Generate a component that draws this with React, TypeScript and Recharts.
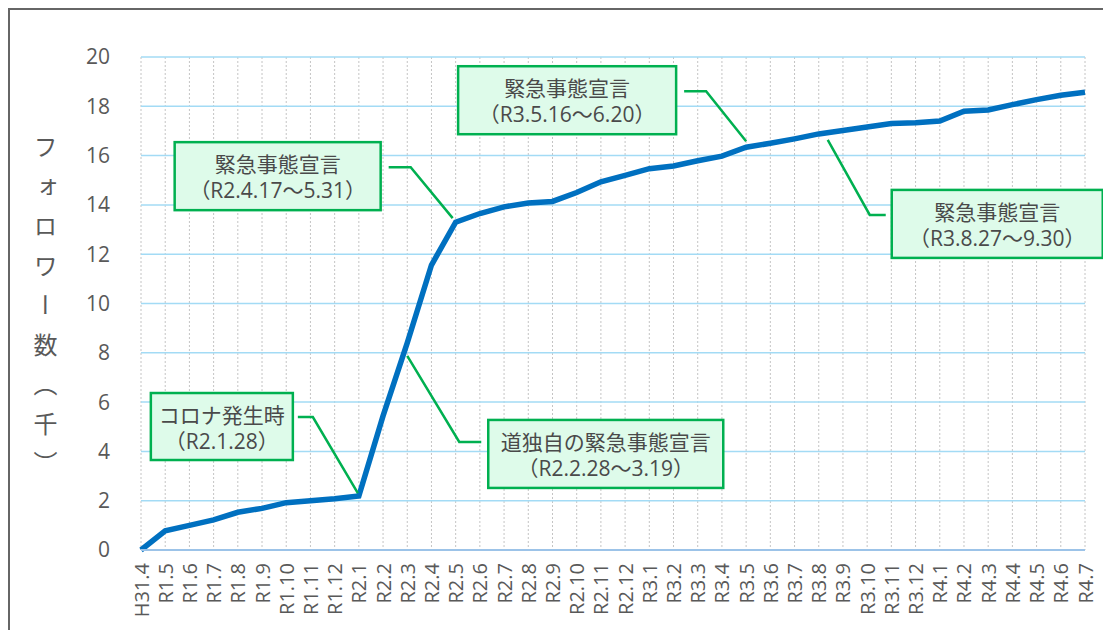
import React from 'react';
import { LineChart, Line, XAxis, YAxis, CartesianGrid, ReferenceDot } from 'recharts';

const categories = [
  'H31.4', 'R1.5', 'R1.6', 'R1.7', 'R1.8', 'R1.9', 'R1.10', 'R1.11', 'R1.12',
  'R2.1', 'R2.2', 'R2.3', 'R2.4', 'R2.5', 'R2.6', 'R2.7', 'R2.8', 'R2.9', 'R2.10', 'R2.11', 'R2.12',
  'R3.1', 'R3.2', 'R3.3', 'R3.4', 'R3.5', 'R3.6', 'R3.7', 'R3.8', 'R3.9', 'R3.10', 'R3.11', 'R3.12',
  'R4.1', 'R4.2', 'R4.3', 'R4.4', 'R4.5', 'R4.6', 'R4.7',
];

const followers = [
  0, 0.78, 1.0, 1.22, 1.53, 1.69, 1.92, 2.0, 2.08,
  2.19, 5.44, 8.4, 11.56, 13.3, 13.65, 13.92, 14.08, 14.14, 14.5, 14.94, 15.2,
  15.47, 15.58, 15.79, 15.98, 16.34, 16.5, 16.68, 16.88, 17.02, 17.16, 17.3, 17.33,
  17.4, 17.8, 17.85, 18.07, 18.27, 18.45, 18.57,
];

const yTicks = [0, 2, 4, 6, 8, 10, 12, 14, 16, 18, 20];
const yAxisTitle = 'フォロワー数（千）';

const annotationCategories = ['R2.1', 'R2.5', 'R2.3', 'R3.5', 'R3.8'];
const annotationTitles = ['コロナ発生時', '緊急事態宣言', '道独自の緊急事態宣言', '緊急事態宣言', '緊急事態宣言'];
const annotationPeriods = ['（R2.1.28）', '（R2.4.17～5.31）', '（R2.2.28～3.19）', '（R3.5.16～6.20）', '（R3.8.27～9.30）'];

// Layout of callouts: pixel offsets relative to the anchored data point
const annotationLayout = [
  { tip: [-1, -3], elbow: [-46, -79], start: [-61, -79], box: [-208, -103, 142, 67] },
  { tip: [-3, -4], elbow: [-45, -55], start: [-67, -55], box: [-281, -80, 206, 68] },
  { tip: [0, 13], elbow: [52, 99], start: [74, 99], box: [81, 77, 235, 68] },
  { tip: [0, -6], elbow: [-40, -56], start: [-62, -56], box: [-288, -81, 218, 68] },
  { tip: [9, 6], elbow: [51, 81], start: [67, 81], box: [73, 56, 211, 68] },
];

const data = categories.map((c, i) => ({ month: c, value: followers[i] }));

const FONT = '"Open Sans", "Noto Sans CJK JP", sans-serif';
const CJK = '"Noto Sans CJK JP", sans-serif';
const TEXT = '#595959';
const GREEN = '#00B050';

const XTick = (props: any) => {
  const { x, y, payload } = props;
  return (
    <text
      x={x}
      y={y}
      transform={`rotate(-90, ${x}, ${y})`}
      textAnchor="end"
      dominantBaseline="central"
      fontSize={20}
      fill={TEXT}
      fontFamily={FONT}
    >
      {payload.value}
    </text>
  );
};

const makeCallout = (i: number) => (props: any) => {
  const { cx, cy } = props;
  if (cx == null || cy == null) return <g />;
  const L = annotationLayout[i];
  const [bx, by, bw, bh] = L.box;
  const pts = [L.start, L.elbow, L.tip].map(([dx, dy]) => `${cx + dx},${cy + dy}`).join(' ');
  const tx = cx + bx + bw / 2;
  const ty = cy + by + bh / 2;
  return (
    <g>
      <polyline points={pts} fill="none" stroke={GREEN} strokeWidth={2.5} />
      <rect x={cx + bx} y={cy + by} width={bw} height={bh} fill="#DEFBEA" stroke={GREEN} strokeWidth={2.5} />
      <text x={tx} y={ty - 12} textAnchor="middle" dominantBaseline="central" fontSize={21} fill="#4a4a4a" fontFamily={FONT}>
        {annotationTitles[i]}
      </text>
      <text x={tx} y={ty + 14} textAnchor="middle" dominantBaseline="central" fontSize={21} fill="#4a4a4a" fontFamily={FONT}>
        {annotationPeriods[i]}
      </text>
    </g>
  );
};

export default function App() {
  return (
    <div
      style={{
        position: 'relative',
        width: 1103,
        height: 622,
        boxSizing: 'border-box',
        borderTop: '2px solid #666666',
        borderLeft: '2px solid #666666',
        background: '#fff',
        fontFamily: FONT,
      }}
    >
      <div
        style={{
          position: 'absolute',
          left: 23,
          top: 125,
          writingMode: 'vertical-rl',
          fontSize: 24,
          lineHeight: '24px',
          letterSpacing: '15.5px',
          color: TEXT,
          fontFamily: CJK,
        }}
      >
        {yAxisTitle}
      </div>
      <LineChart
        width={1101}
        height={620}
        data={data}
        margin={{ top: 47, right: 26, bottom: 0, left: 0 }}
      >
        <CartesianGrid vertical horizontal={false} stroke="#c4c4c4" strokeDasharray="2 2" />
        <CartesianGrid vertical={false} horizontal stroke="#a3dbf5" strokeWidth={1.5} />
        <XAxis
          dataKey="month"
          interval={0}
          tickLine={false}
          tickSize={0}
          tickMargin={13}
          height={80}
          axisLine={{ stroke: '#9cc3e8', strokeWidth: 2 }}
          tick={(p: any) => <XTick {...p} />}
        />
        <YAxis
          type="number"
          domain={[0, 20]}
          ticks={yTicks}
          width={131}
          tickLine={false}
          axisLine={false}
          tickSize={0}
          tickMargin={31}
          tick={{ fontSize: 21, fill: TEXT, fontFamily: FONT }}
        />
        <Line
          type="linear"
          dataKey="value"
          stroke="#0070C0"
          strokeWidth={5.5}
          dot={false}
          isAnimationActive={false}
        />
        {annotationCategories.map((c, i) => (
          <ReferenceDot
            key={i}
            x={c}
            y={followers[categories.indexOf(c)]}
            ifOverflow="visible"
            shape={makeCallout(i)}
          />
        ))}
      </LineChart>
    </div>
  );
}
